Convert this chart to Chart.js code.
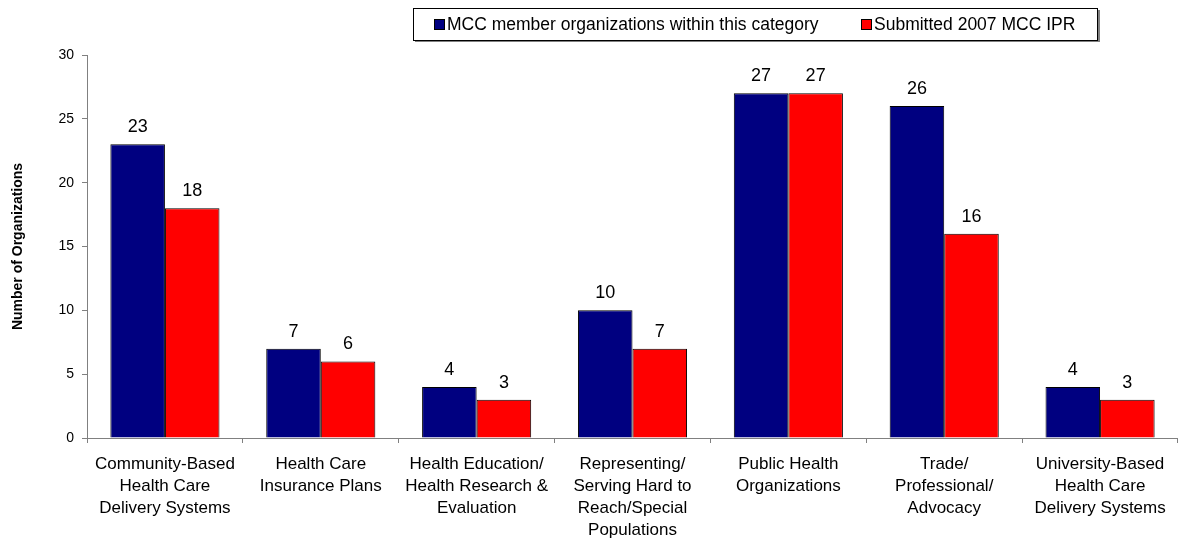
<!DOCTYPE html>
<html>
<head>
<meta charset="utf-8">
<script src="https://cdn.jsdelivr.net/npm/chart.js@4"></script>
<style>
  html, body { margin: 0; padding: 0; background: #fff; }
  #wrap { width: 1178px; height: 539px; position: relative; }
</style>
</head>
<body>
<div id="wrap"><canvas id="orgChart"></canvas></div>
<script>
const categories = [
  ['Community-Based', 'Health Care', 'Delivery Systems'],
  ['Health Care', 'Insurance Plans'],
  ['Health Education/', 'Health Research &', 'Evaluation'],
  ['Representing/', 'Serving Hard to', 'Reach/Special', 'Populations'],
  ['Public Health', 'Organizations'],
  ['Trade/', 'Professional/', 'Advocacy'],
  ['University-Based', 'Health Care', 'Delivery Systems']
];
const memberOrgs = [23, 7, 4, 10, 27, 26, 4];
const submittedIPR = [18, 6, 3, 7, 27, 16, 3];
const yTicks = [0, 5, 10, 15, 20, 25, 30];

const FONT = "'Liberation Sans', Arial, sans-serif";

// value labels above each bar
const barLabels = {
  id: 'barLabels',
  afterDatasetsDraw(chart) {
    const ctx = chart.ctx;
    ctx.save();
    ctx.font = '18px ' + FONT;
    ctx.fillStyle = '#000';
    ctx.textAlign = 'center';
    ctx.textBaseline = 'alphabetic';
    chart.data.datasets.forEach((ds, i) => {
      chart.getDatasetMeta(i).data.forEach((bar, j) => {
        ctx.fillText(ds.data[j], bar.x, bar.y - 12);
      });
    });
    ctx.restore();
  }
};

// boxed legend at the top
const boxLegend = {
  id: 'boxLegend',
  afterDraw(chart) {
    const ctx = chart.ctx;
    ctx.save();
    // shadow
    ctx.fillStyle = '#808080';
    ctx.fillRect(415, 40, 685, 2);
    ctx.fillRect(1098, 10, 2, 32);
    ctx.fillStyle = '#fff';
    ctx.fillRect(413.5, 8.5, 684, 32);
    ctx.strokeStyle = '#000';
    ctx.lineWidth = 1;
    ctx.strokeRect(413.5, 8.5, 684, 32);
    ctx.font = '17.5px ' + FONT;
    ctx.textBaseline = 'alphabetic';
    const xs = [434, 861];
    chart.data.datasets.forEach((ds, i) => {
      ctx.fillStyle = ds.backgroundColor;
      ctx.fillRect(xs[i], 19, 11, 11);
      ctx.strokeStyle = '#000';
      ctx.strokeRect(xs[i] + 0.5, 19.5, 10, 10);
      ctx.fillStyle = '#000';
      ctx.fillText(ds.label, xs[i] + 13, 30);
    });
    ctx.restore();
  }
};

new Chart(document.getElementById('orgChart'), {
  type: 'bar',
  data: {
    labels: categories,
    datasets: [{
      label: 'MCC member organizations within this category',
      data: memberOrgs,
      backgroundColor: '#000080',
      borderColor: '#000',
      borderWidth: 1,
      categoryPercentage: 0.7,
      barPercentage: 1.0
    }, {
      label: 'Submitted 2007 MCC IPR',
      data: submittedIPR,
      backgroundColor: '#ff0000',
      borderColor: '#000',
      borderWidth: 1,
      categoryPercentage: 0.7,
      barPercentage: 1.0
    }]
  },
  options: {
    responsive: true,
    maintainAspectRatio: false,
    animation: false,
    layout: { padding: { top: 55, right: 0, left: 10, bottom: 0 } },
    plugins: {
      legend: { display: false },
      tooltip: { enabled: false }
    },
    scales: {
      x: {
        grid: {
          display: true,
          drawOnChartArea: false,
          drawTicks: true,
          tickLength: 5,
          color: '#808080',
          offset: true
        },
        border: { color: '#808080', width: 1 },
        ticks: {
          color: '#000',
          font: { family: FONT, size: 17, lineHeight: 1.3 },
          maxRotation: 0,
          autoSkip: false,
          padding: 10
        },
        afterFit(scale) { scale.height = 101; }
      },
      y: {
        min: 0,
        max: 30,
        afterBuildTicks(scale) { scale.ticks = yTicks.map(v => ({ value: v })); },
        grid: {
          display: true,
          drawOnChartArea: false,
          drawTicks: true,
          tickLength: 5,
          color: '#808080'
        },
        border: { color: '#808080', width: 1 },
        ticks: {
          color: '#000',
          font: { family: FONT, size: 14 },
          padding: 8
        },
        title: {
          display: true,
          text: 'Number of Organizations',
          color: '#000',
          font: { family: FONT, size: 14, weight: 'bold' },
          padding: { top: 0, bottom: 18 }
        },
        afterFit(scale) { scale.width = 77; }
      }
    }
  },
  plugins: [barLabels, boxLegend]
});
</script>
</body>
</html>
